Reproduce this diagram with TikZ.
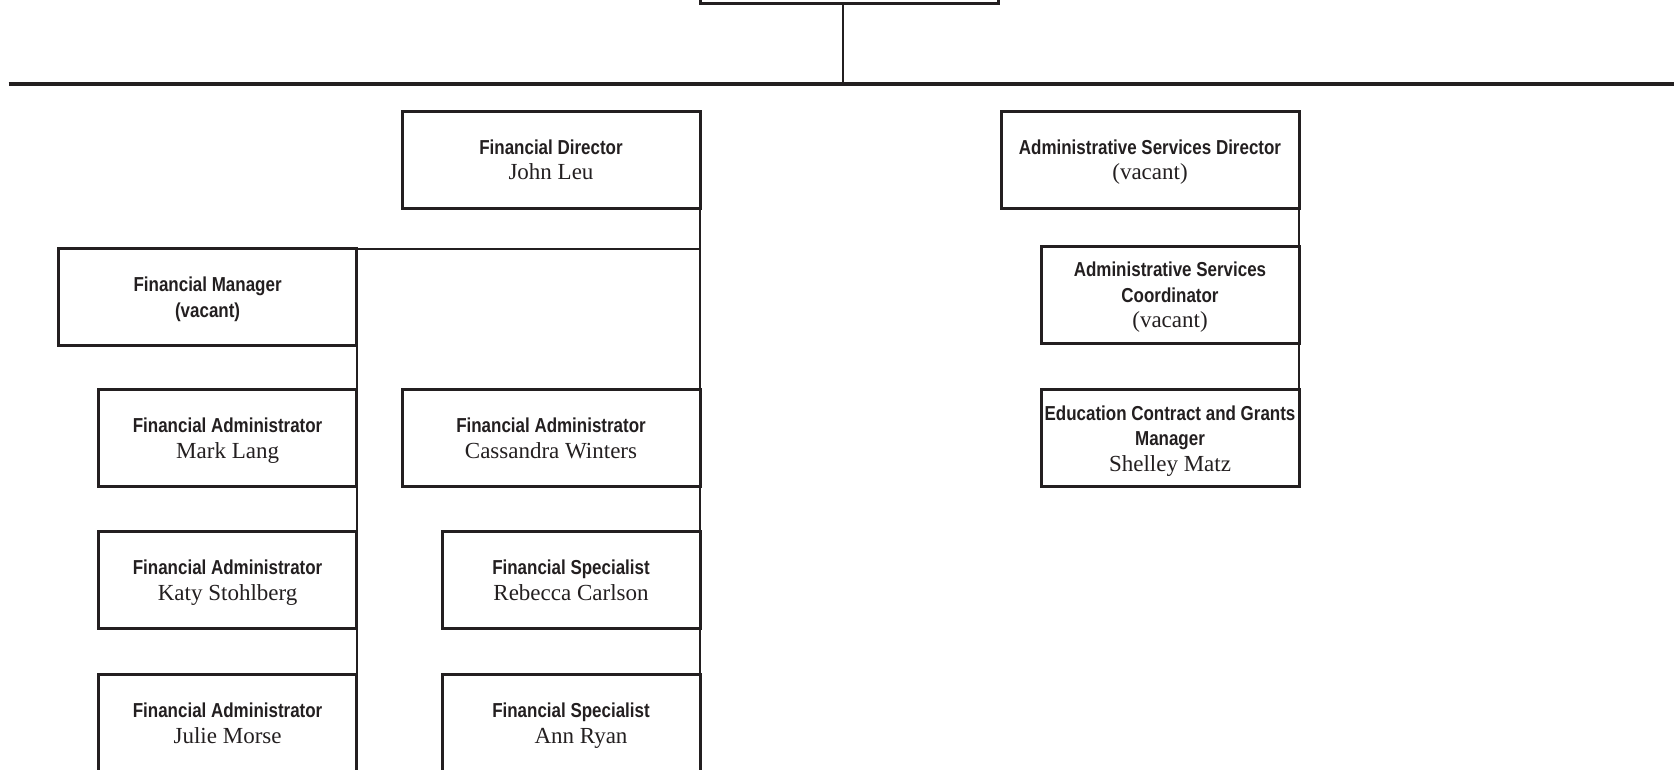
\documentclass[tikz,border=0pt]{standalone}
\usepackage{fontspec}
\setmainfont{Liberation Serif}
\newfontfamily\rolefont[FakeStretch=0.84]{Liberation Sans}
\newcommand\role[1]{{\rolefont\bfseries\fontsize{20.2}{25.5}\selectfont #1}}
\definecolor{ink}{HTML}{231F20}

\begin{document}
\begin{tikzpicture}[x=1pt,y=-1pt,ink,
    post/.style={draw,line width=3pt,minimum width=298pt,minimum height=97pt,
      inner sep=0pt,outer sep=0pt,align=center,text depth=0pt,
      font=\fontsize{23}{25.5}\selectfont},
    narrow/.style={minimum width=258pt},
    link/.style={draw,line width=2pt},
    bar/.style={draw,line width=3.4pt}]

  \useasboundingbox (0,0) rectangle (1674,769);
  \clip (0,0) rectangle (1674,769);

  \node[post,minimum height=100pt]  (top)       at (849.5,-47)  {};
  \node[post]                       (fd)        at (551,159.5)  {\role{Financial Director}\\John Leu};
  \node[post]                       (asd)       at (1150,159.5) {\role{Administrative Services Director}\\(vacant)};
  \node[post]                       (fm)        at (207.6,297.3) {\role{Financial Manager}\\\role{(vacant)}};
  \node[post,narrow]                (mark)      at (227.6,438.2) {\role{Financial Administrator}\\Mark Lang};
  \node[post]                       (cassandra) at (551,438.2)  {\role{Financial Administrator}\\Cassandra Winters};
  \node[post,narrow]                (katy)      at (227.6,580.2) {\role{Financial Administrator}\\Katy Stohlberg};
  \node[post,narrow]                (rebecca)   at (571,580.2)  {\role{Financial Specialist}\\Rebecca Carlson};
  \node[post,narrow]                (julie)     at (227.6,723.2) {\role{Financial Administrator}\\Julie Morse};
  \node[post,narrow]                (ann)       at (571,723.2)  {\role{Financial Specialist}\\\hspace*{20pt}Ann Ryan};
  \node[post,narrow]                (asc)       at (1170,294.7) {\role{Administrative Services}\\\role{Coordinator}\\(vacant)};
  \node[post,narrow]                (ecgm)      at (1170,438.2) {\role{Education Contract and Grants}\\\role{Manager}\\Shelley Matz};

  \coordinate (barL) at (8.5,84);
  \coordinate (barR) at (1674,84);
  \coordinate (drop) at ([xshift=142pt]top.south west);

  \path[bar] (barL) edge (barR);
  \path[link] (drop)            edge (drop |- barL)
              (fd.south east)   edge (ann.south east)
              (fm.north east)   edge (fm.north east -| fd.east)
              (fm.south east)   edge (julie.south east)
              (asd.south east)  edge (ecgm.north east);

\end{tikzpicture}
\end{document}
